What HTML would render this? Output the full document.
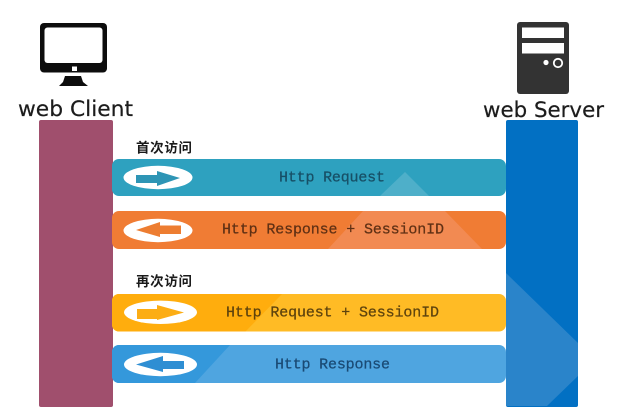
<!DOCTYPE html>
<html>
<head>
<meta charset="utf-8">
<style>
html,body{margin:0;padding:0;background:#fff;width:618px;height:418px;overflow:hidden}
svg{display:block}
.m{font-family:"Liberation Mono",monospace;font-size:15px;stroke-width:.25px}
.c{font-family:"Liberation Sans","Noto Sans CJK SC",sans-serif;font-size:13.5px;font-weight:bold;fill:#1a1a1a}
.t{font-family:"DejaVu Sans",sans-serif;font-size:21.5px;fill:#1c1c1c;stroke:#1c1c1c;stroke-width:.2px}
</style>
</head>
<body>
<svg width="618" height="418" viewBox="0 0 618 418" xmlns="http://www.w3.org/2000/svg">
<defs>
<clipPath id="b1"><rect x="112" y="159" width="394" height="37" rx="7"/></clipPath>
<clipPath id="b2"><rect x="112" y="211" width="394" height="38" rx="7"/></clipPath>
<clipPath id="b3"><rect x="112" y="294" width="394" height="37.5" rx="7"/></clipPath>
<clipPath id="b4"><rect x="112" y="345" width="394" height="38" rx="7"/></clipPath>
</defs>

<!-- Monitor icon -->
<rect x="40" y="23" width="67" height="49.500" rx="4" fill="#0d0d0d"/>
<rect x="44.500" y="27.500" width="58" height="35.500" rx="3" fill="#fff"/>
<rect x="72" y="66.500" width="5" height="4.500" fill="#fff"/>
<polygon points="65,76 81,76 83,82 88,86 59,86 63,82" fill="#0d0d0d"/>
<text class="t" x="18" y="116" textLength="115" lengthAdjust="spacingAndGlyphs">web Client</text>

<!-- Server icon -->
<rect x="517" y="22" width="52" height="72" rx="3" fill="#333"/>
<rect x="522" y="27.500" width="42" height="10.500" fill="#fff"/>
<rect x="522" y="43" width="42" height="10.500" fill="#fff"/>
<circle cx="546" cy="62.500" r="2.600" fill="#fff"/>
<circle cx="558" cy="63" r="4.200" fill="none" stroke="#fff" stroke-width="1.800"/>
<text class="t" x="483" y="117" textLength="121" lengthAdjust="spacingAndGlyphs">web Server</text>

<!-- Lifelines -->
<rect x="39" y="120" width="74" height="287" rx="2" fill="#a04f6d"/>
<rect x="506" y="120" width="72" height="287" rx="2" fill="#0270c3"/>
<polygon points="506,273 578,343 578,376 547,406 506,406" fill="#2a84ca"/>

<!-- Bar 1 -->
<text class="c" x="136" y="152.500" textLength="56">首次访问</text>
<rect x="112" y="159" width="394" height="37" rx="7" fill="#2ea1bf"/>
<polygon clip-path="url(#b1)" points="405,172 380,196 429,196" fill="#4eafc9"/>
<ellipse cx="158" cy="177.500" rx="34.500" ry="11.700" fill="#fff"/>
<polygon points="136,175 157,175 157,171 180,178 157,186 157,183 136,183" fill="#2e95b5"/>
<text class="m" x="279" y="181.500" textLength="106" fill="#174f66" stroke="#174f66">Http Request</text>

<!-- Bar 2 -->
<rect x="112" y="211" width="394" height="38" rx="7" fill="#f07c34"/>
<polygon clip-path="url(#b2)" points="363,211 445,211 482,249 328,249" fill="#f28a52"/>
<ellipse cx="158" cy="230.500" rx="34.500" ry="11.700" fill="#fff"/>
<polygon points="136,230 160,222 160,225.500 181,225.500 181,234 160,234 160,237" fill="#ed7d31"/>
<text class="m" x="222" y="233.500" textLength="222" fill="#5f3014" stroke="#5f3014">Http Response + SessionID</text>

<!-- Bar 3 -->
<text class="c" x="136" y="286" textLength="56">再次访问</text>
<rect x="112" y="294" width="394" height="37.500" rx="7" fill="#ffbb25"/>
<polygon clip-path="url(#b3)" points="112,294 282,294 245,332 112,332" fill="#ffad0d"/>
<ellipse cx="160.500" cy="312.300" rx="36.500" ry="11.700" fill="#fff"/>
<polygon points="137,309 157,309 157,305 184,312.500 157,320 157,319 137,319" fill="#fcad14"/>
<text class="m" x="226" y="316.500" textLength="213" fill="#5e430d" stroke="#5e430d">Http Request + SessionID</text>

<!-- Bar 4 -->
<rect x="112" y="345" width="394" height="38" rx="7" fill="#4fa5e0"/>
<polygon clip-path="url(#b4)" points="112,345 230,345 195,383 112,383" fill="#3498db"/>
<ellipse cx="160.500" cy="364.500" rx="36.500" ry="11.700" fill="#fff"/>
<polygon points="136,364.500 163,356 163,361 184,361 184,369 163,369 163,372" fill="#2e8ed3"/>
<text class="m" x="275" y="368.500" textLength="115" fill="#1a4a74" stroke="#1a4a74">Http Response</text>
</svg>
</body>
</html>
